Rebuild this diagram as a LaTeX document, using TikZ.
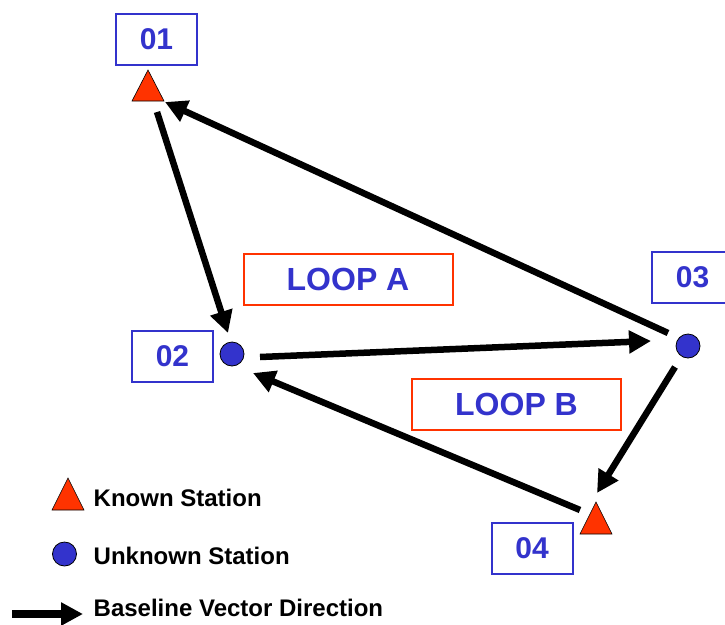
\documentclass[tikz,border=0pt]{standalone}
\usepackage{fontspec}
\setmainfont{Liberation Sans}
\usetikzlibrary{arrows.meta}
\definecolor{stblue}{RGB}{51,51,204}
\definecolor{stred}{RGB}{255,51,0}
\begin{document}
\begin{tikzpicture}[x=1pt,y=-1pt,
  idbox/.style={draw=stblue, line width=2pt, text=stblue, inner sep=0pt,
    minimum width=81pt, minimum height=51pt,
    font=\fontsize{30}{36}\selectfont\bfseries},
  loopbox/.style={draw=stred, line width=2pt, text=stblue, inner sep=0pt,
    minimum width=209pt, minimum height=51pt,
    font=\fontsize{32}{38}\selectfont\bfseries},
  known/.style={fill=stred, draw=black, line width=0.6pt},
  unknown/.style={fill=stblue, draw=black, line width=0.8pt},
  vec/.style={line width=6.5pt, -{Triangle[length=22pt,width=22pt]}},
  legtext/.style={anchor=base west, inner sep=0pt,
    font=\fontsize{24}{28}\selectfont\bfseries}]
\clip (0,0) rectangle (725,624);

% stations
\coordinate (s01) at (148,90);
\coordinate (s02) at (232,354);
\coordinate (s03) at (688,346);
\coordinate (s04) at (596,522);
\path[known] (148,70) -- (164,101) -- (132,101) -- cycle;
\path[unknown] (s02) circle[radius=12];
\path[unknown] (s03) circle[radius=12];
\path[known] (596,502) -- (612,534) -- (580,534) -- cycle;

% labels
\node[idbox] (b01) at (156.5,39) {01};
\node[idbox] (b02) at (172.5,356.5) {02};
\node[idbox] (b03) at (692.5,277) {03};
\node[idbox] (b04) at (532,548) {04};
\node[loopbox] (la) at (348,279) {LOOP A};
\node[loopbox] (lb) at (516.5,404.5) {LOOP B};

% baseline vectors
\draw[vec] ([shift={(9,22)}]s01) -- ([shift={(-4,-21)}]s02);
\draw[vec] ([shift={(-20,-13)}]s03) -- ([shift={(17,12)}]s01);
\draw[vec] ([shift={(28,3)}]s02) -- ([shift={(-37,-5)}]s03);
\draw[vec] ([shift={(-13,21)}]s03) -- ([shift={(1,-29)}]s04);
\draw[vec] ([shift={(-16,-12)}]s04) -- ([shift={(21,19)}]s02);

% legend
\path[known] (68,478) -- (84,510) -- (52,510) -- cycle;
\node[legtext] (lk) at (93.5,506) {Known Station};
\coordinate (lu) at (64.5,554);
\path[unknown] (lu) circle[radius=12];
\node[legtext] (lun) at (93.5,564) {Unknown Station};
\coordinate (la1) at (12,614);
\coordinate (la2) at (83,614);
\draw[line width=7.5pt, -{Triangle[length=22pt,width=22pt]}] (la1) -- (la2);
\node[legtext] (lv) at (93.5,616.5) {Baseline Vector Direction};
\end{tikzpicture}
\end{document}
